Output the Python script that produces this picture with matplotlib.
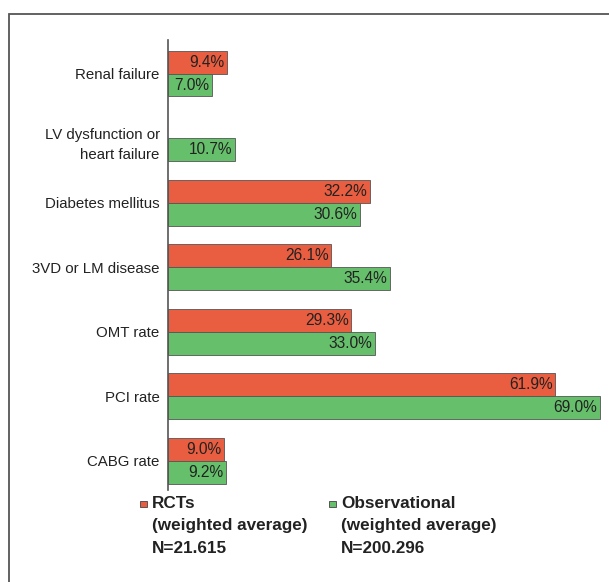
import numpy as np
import matplotlib.pyplot as plt
from matplotlib import font_manager
from matplotlib.patches import Rectangle
from matplotlib.transforms import ScaledTranslation

# condensed face for the category and value labels, if the system has one
try:
    font_manager.findfont('Liberation Sans Narrow', fallback_to_default=False)
    LABEL_FONT, LABEL_SIZE = ['Liberation Sans Narrow', 'DejaVu Sans'], 11.8
except ValueError:
    LABEL_FONT, LABEL_SIZE = ['Liberation Sans', 'DejaVu Sans'], 10.8
plt.rcParams['font.family'] = LABEL_FONT

categories = ['Renal failure', 'LV dysfunction or\nheart failure', 'Diabetes mellitus',
              '3VD or LM disease', 'OMT rate', 'PCI rate', 'CABG rate']
rct = [9.4, np.nan, 32.2, 26.1, 29.3, 61.9, 9.0]
observational = [7.0, 10.7, 30.6, 35.4, 33.0, 69.0, 9.2]

RED = '#E95D40'
GREEN = '#66BF6B'
EDGE = '#555555'

W, H = 609, 582
fig = plt.figure(figsize=(W / 100, H / 100), dpi=100)
# frame around the panel (right and bottom run off the page)
fig.patches.append(Rectangle((8.5 / W, -0.05), 1.2, 1 - 13.5 / H + 0.05,
                             transform=fig.transFigure, fill=False,
                             edgecolor=EDGE, linewidth=1.3))

ax = fig.add_axes([168 / W, 1 - 490 / H, 1 - 168 / W, 450 / H])
y = np.arange(len(categories))
h = 0.355

for i, (r, o) in enumerate(zip(rct, observational)):
    if not np.isnan(r):
        ax.barh(y[i] - h / 2, r, height=h, color=RED, edgecolor=EDGE, linewidth=0.6)
        ax.text(r - 0.4, y[i] - h / 2, f'{r:.1f}%', ha='right', va='center',
                fontsize=LABEL_SIZE + 0.4, color='#222222')
    ax.barh(y[i] + h / 2, o, height=h, color=GREEN, edgecolor=EDGE, linewidth=0.6)
    ax.text(o - 0.4, y[i] + h / 2, f'{o:.1f}%', ha='right', va='center',
            fontsize=LABEL_SIZE + 0.4, color='#222222')

ax.set_ylim(6.45, -0.52)
ax.set_xlim(0, 441 / 6.26)
ax.set_yticks(y)
ax.set_yticklabels(categories, fontsize=LABEL_SIZE, color='#222222')
ax.tick_params(axis='y', length=0, pad=6)
# the two-line label sits a little lower, with wider line gap
two_line = ax.get_yticklabels()[1]
two_line.set_linespacing(1.6)
two_line.set_transform(two_line.get_transform()
                       + ScaledTranslation(0, -0.02, fig.dpi_scale_trans))
ax.set_xticks([])
for s in ['top', 'right', 'bottom']:
    ax.spines[s].set_visible(False)
ax.spines['left'].set_color(EDGE)
ax.spines['left'].set_linewidth(1.2)

# legend drawn as text blocks under the bars
legend = [(140, RED, 'RCTs\n(weighted average)\nN=21.615'),
          (329, GREEN, 'Observational\n(weighted average)\nN=200.296')]
for x0, col, txt in legend:
    fig.patches.append(Rectangle((x0 / W, 1 - 507 / H), 7 / W, 6 / H,
                                 transform=fig.transFigure, facecolor=col,
                                 edgecolor=EDGE, linewidth=0.7))
    fig.text((x0 + 12) / W, 1 - 496 / H, txt, ha='left', va='top',
             fontsize=12.3, fontweight='bold', family=['Liberation Sans', 'DejaVu Sans'],
             color='#222222', linespacing=1.62)

fig.savefig('out.png', dpi=100)
